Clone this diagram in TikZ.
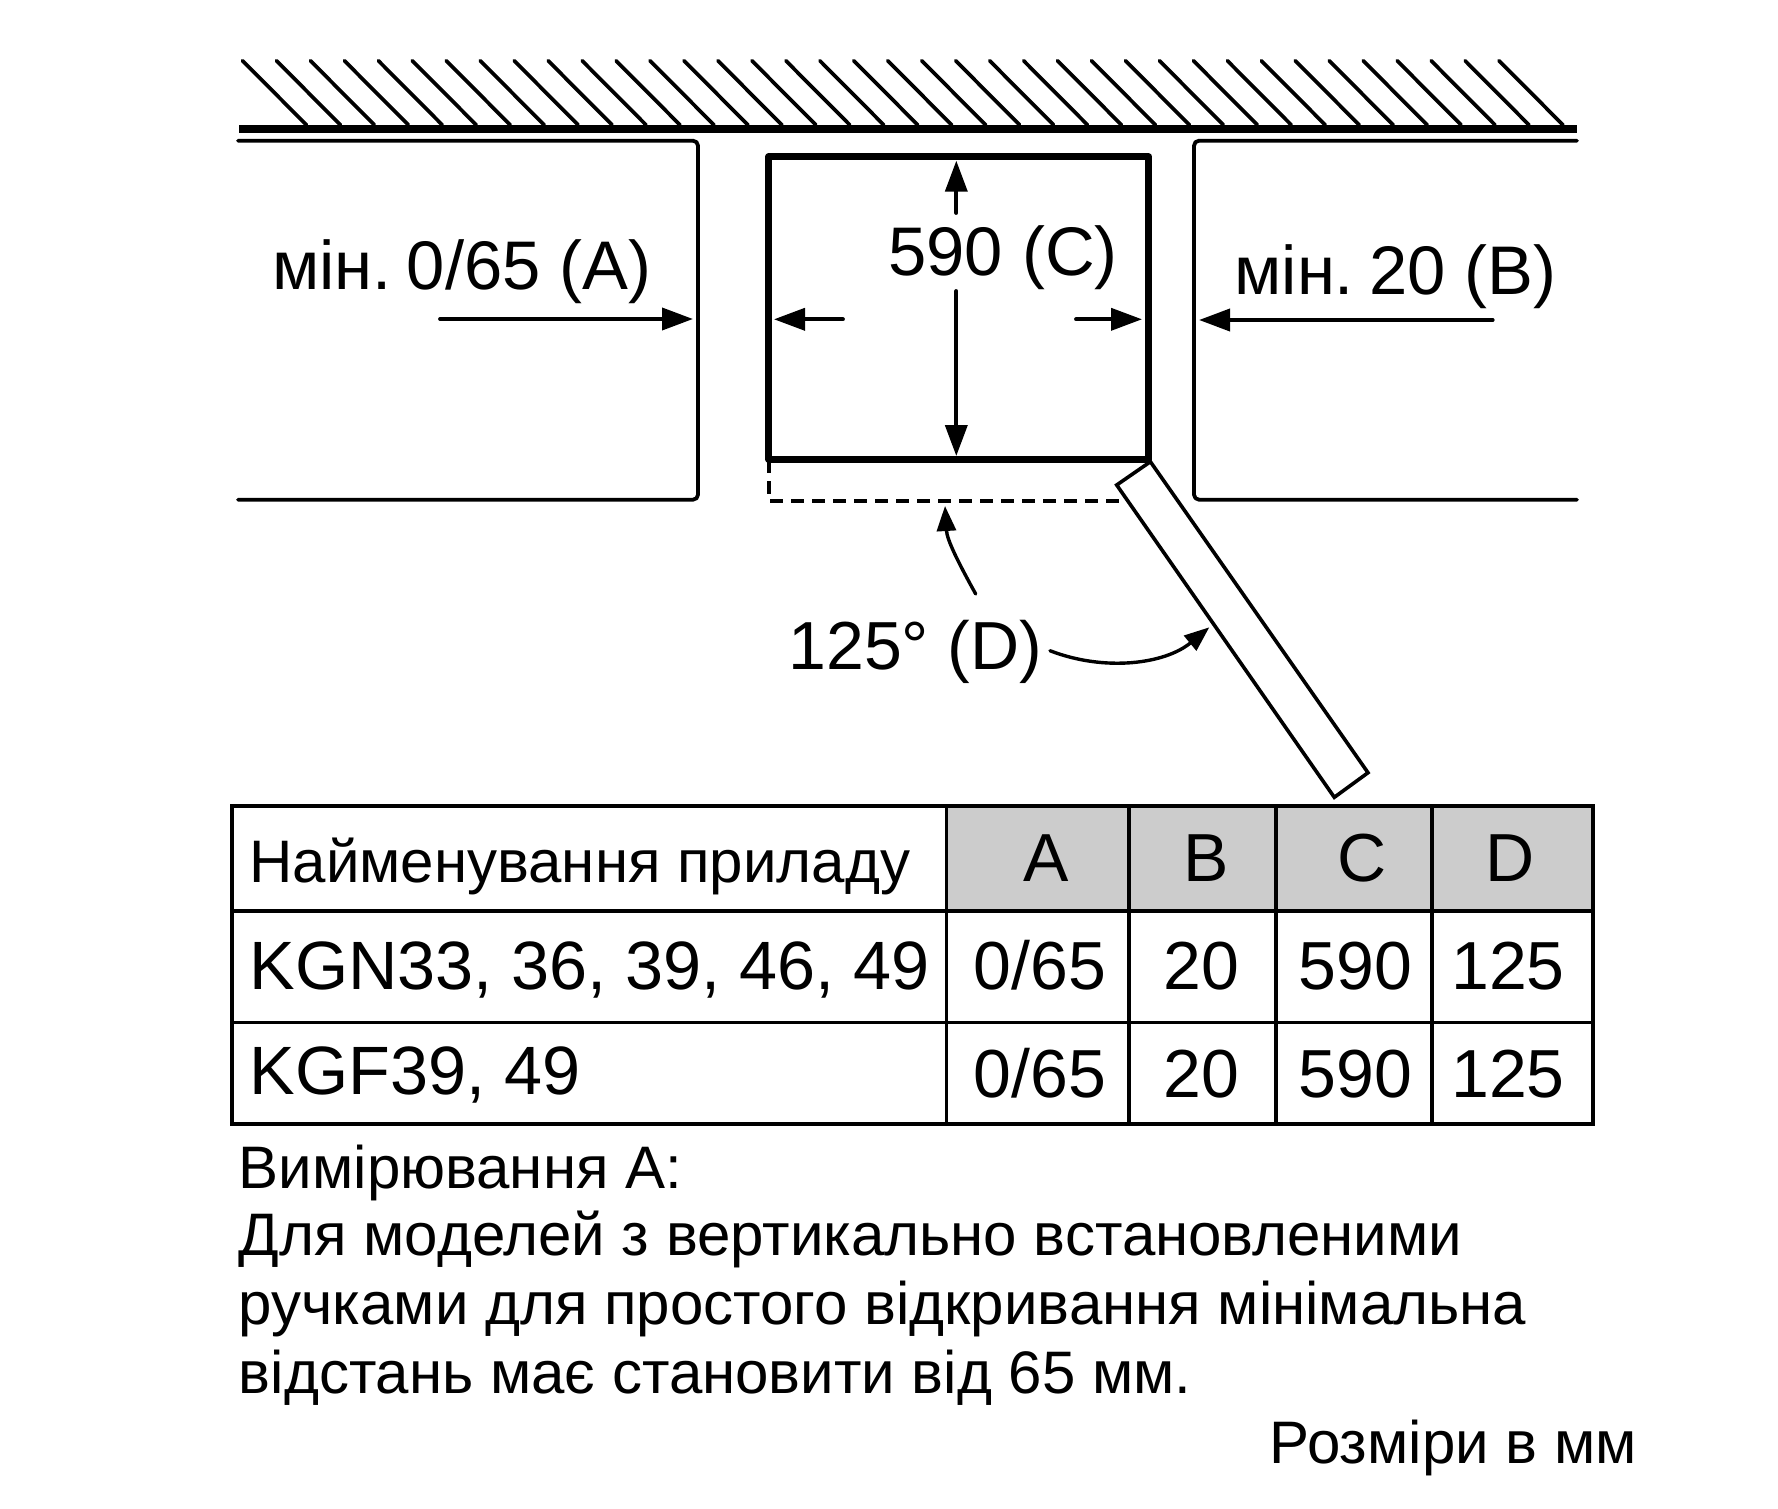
\documentclass[tikz,border=0pt]{standalone}
\usepackage{fontspec}
\setmainfont{Liberation Sans}
\usetikzlibrary{arrows.meta}
\tikzset{
  px/.style={x=0.5pt,y=-0.5pt},
  hatch/.style={line width=1.85pt,line cap=round},
  wall/.style={line width=4pt},
  block/.style={line width=1.9pt,line cap=round,line join=round,rounded corners=2.5pt},
  fridge/.style={line width=3.3pt,line join=round},
  door/.style={line width=1.8pt,line join=miter,fill=white},
  swing/.style={line width=1.6pt,dash pattern=on 6.5pt off 4pt},
  dim/.style={line width=1.9pt,line cap=round,-{Triangle[length=15.5pt,width=11pt]}},
  angarrow/.style={line width=1.7pt,line cap=round,-{Triangle[length=12.5pt,width=9.5pt]}},
  grid/.style={line width=1.8pt},
  label/.style={font=\fontsize{34}{40}\selectfont,inner sep=0pt,anchor=base},
  labelw/.style={label,anchor=base west},
  tabw/.style={font=\fontsize{34.2}{40}\selectfont,inner sep=0pt,anchor=base west},
  dimw/.style={font=\fontsize{34.4}{40}\selectfont,inner sep=0pt,anchor=base west},
  note/.style={font=\fontsize{30}{34}\selectfont,inner sep=0pt,anchor=base west},
}
\begin{document}
\begin{tikzpicture}[px]
\useasboundingbox (0,0) rectangle (1778,1509);
\fill[white] (0,0) rectangle (1778,1509);
% ceiling hatch
\foreach \k in {0,...,37}{
  \pgfmathsetmacro{\hx}{242.5+33.96*\k}
  \draw[hatch] (\hx,60.7) -- ({\hx+64},125);
}
\draw[wall] (239,129) -- (1577,129);
% side blocks
\draw[block] (238,140.7) -- (698,140.7) -- (698,499.7) -- (238,499.7);
\draw[block] (1577,140.7) -- (1194,140.7) -- (1194,499.7) -- (1577,499.7);
% coordinates
\coordinate (aS) at (440,319);   \coordinate (aT) at (693,319);
\coordinate (bS) at (1492.7,320);\coordinate (bT) at (1199,320);
\coordinate (lS) at (843,319.3); \coordinate (lT) at (774,319.3);
\coordinate (rS) at (1076,319.3);\coordinate (rT) at (1142,319.3);
\coordinate (cuS) at (956.3,213);\coordinate (cuT) at (956.3,160.7);
\coordinate (cdS) at (956.3,291);\coordinate (cdT) at (956.3,456);
\coordinate (d1S) at (975.7,594);\coordinate (d1T) at (945,506);
\coordinate (d2S) at (1050,650.7);\coordinate (d2T) at (1209.3,627.3);
% swing outline
\draw[swing] (769,460) -- (769,501) -- (1129,501);
% fridge
\draw[fridge] (768.6,156.7) rectangle (1148.7,459.3);
% open door
\draw[door] (1150.4,461.7) -- (1368,772.7) -- (1334.3,797.3) -- (1116.7,485) -- cycle;
% dimension arrows
\draw[dim] (aS) -- (aT);
\draw[dim] (bS) -- (bT);
\draw[dim] (lS) -- (lT);
\draw[dim] (rS) -- (rT);
\draw[dim] (cuS) -- (cuT);
\draw[dim] (cdS) -- (cdT);
\draw[angarrow] (d1S) .. controls (958,562) and (947,540) .. (d1T);
\draw[angarrow] (d2S) .. controls (1105,672) and (1165,664) .. (d2T);
% labels
\node[dimw] (la) at (271.6,289) {мін.\kern-2pt\ 0/65 (A)};
\node[dimw] (lb) at (1234,294) {мін.\kern-2pt\ 20 (B)};
\node[dimw] (lc) at (888,275) {590 (C)};
\node[labelw] (ld) at (788,669) {125° (D)};
% table
\fill[black!20] (945.6,806) rectangle (1592.8,911);
\draw[grid] (232,806) rectangle (1592.8,1123.7);
\draw[grid] (232,911) -- (1592.8,911);
\draw[grid] (232,1022.3) -- (1592.8,1022.3);
\foreach \cx in {946.5,1129,1276,1432}{\draw[grid] (\cx,806) -- (\cx,1123.7);}
\node[note] (t0) at (249,882.7) {Найменування приладу};
\node[tabw] (t1) at (249,989) {KGN33, 36, 39, 46, 49};
\node[tabw] (t2) at (249,1094) {KGF39, 49};
\node[label] (ha) at (1046,881.7) {A};
\node[label] (hb) at (1205.7,881.7) {B};
\node[label] (hc) at (1362,881.7) {C};
\node[label] (hd) at (1510,881.7) {D};
\node[label] (a1) at (1039.8,989) {0/65};
\node[label] (b1) at (1201,989) {20};
\node[label] (c1) at (1355.5,989) {590};
\node[label] (d1) at (1508,989) {125};
\node[label] (a2) at (1039.8,1097) {0/65};
\node[label] (b2) at (1201,1097) {20};
\node[label] (c2) at (1355.5,1097) {590};
\node[label] (d2) at (1508,1097) {125};
% notes
\node[note] (n0) at (238.5,1188) {Вимірювання А:};
\node[note] (n1) at (238.5,1255.5) {Для моделей з вертикально встановленими};
\node[note] (n2) at (238.5,1324) {ручками для простого відкривання мінімальна};
\node[note] (n3) at (238.5,1393) {відстань має становити від 65 мм.};
\node[note] (n4) at (1269.5,1463.3) {Розміри в мм};
\end{tikzpicture}
\end{document}
